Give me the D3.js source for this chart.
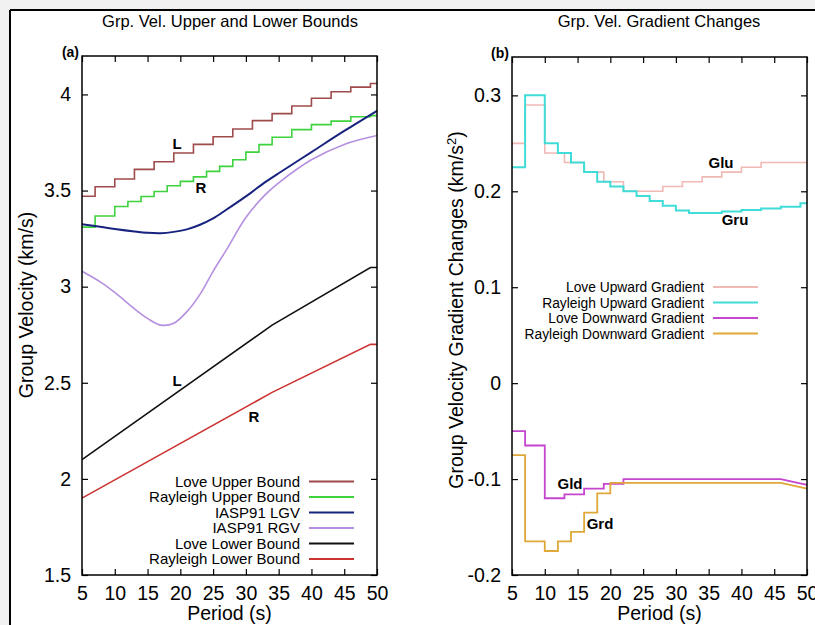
<!DOCTYPE html>
<html>
<head>
<meta charset="utf-8">
<title>Group velocity bounds and gradients</title>
<script src="https://d3js.org/d3.v7.min.js"></script>
<style>
  body { margin: 0; background: #f0f0f0; }
  svg { display: block; font-family: "Liberation Sans", Arial, Helvetica, sans-serif; }
</style>
</head>
<body>
<svg id="fig" width="815" height="625"></svg>
<script>
// ---- panel (a): group velocity bounds (km/s) ----
const loveSteps = [5, 7, 10, 13, 16, 19, 22, 25, 28, 31, 34, 37, 40, 43, 46, 49];
const loveUpper = [3.47, 3.52, 3.56, 3.61, 3.65, 3.695, 3.74, 3.78, 3.82, 3.864, 3.90, 3.94, 3.98, 4.014, 4.038, 4.057];

const raySteps = [5, 7, 10, 12, 14, 16, 18, 20, 22, 24, 26, 28, 30, 32, 34, 37, 40, 43, 46, 49];
const rayUpper = [3.31, 3.368, 3.417, 3.443, 3.469, 3.495, 3.525, 3.548, 3.571, 3.60, 3.626, 3.66, 3.70, 3.739, 3.777, 3.817, 3.843, 3.861, 3.884, 3.89];

const iaspPeriods = [5, 8, 10, 13, 15, 17, 19, 21, 23, 25, 27, 30, 33, 35, 40, 45, 50];
const iaspLGV = [3.325, 3.31, 3.30, 3.287, 3.28, 3.278, 3.285, 3.298, 3.322, 3.355, 3.40, 3.47, 3.545, 3.59, 3.70, 3.81, 3.915];
const iaspRGV = [3.08, 3.02, 2.97, 2.885, 2.835, 2.80, 2.81, 2.87, 2.96, 3.08, 3.19, 3.36, 3.48, 3.54, 3.66, 3.74, 3.786];

const lowerPeriods = [5, 34, 49, 50];
const loveLower = [2.1, 2.8, 3.1, 3.1];
const rayLower = [1.9, 2.45, 2.7, 2.7];

// ---- panel (b): gradient changes (km/s^2) ----
const loveUpGrad = [0.25, 0.29, 0.24, 0.23, 0.22, 0.21, 0.20, 0.20, 0.205, 0.21, 0.215, 0.22, 0.225, 0.23, 0.23, 0.23];
const rayUpGrad = [0.225, 0.30, 0.25, 0.24, 0.23, 0.22, 0.21, 0.205, 0.20, 0.195, 0.19, 0.185, 0.18, 0.1775, 0.1775, 0.179, 0.1805, 0.182, 0.184, 0.1875];

const loveDownSteps = [5, 7, 10, 13, 16, 19, 22, 46];
const loveDownGrad = [-0.05, -0.065, -0.12, -0.116, -0.11, -0.105, -0.10, -0.10];
const loveDownEnd = -0.106;
const rayDownSteps = [5, 7, 10, 12, 14, 16, 18, 20, 46];
const rayDownGrad = [-0.075, -0.165, -0.175, -0.165, -0.155, -0.135, -0.115, -0.104, -0.104];
const rayDownEnd = -0.11;

const periodTicks = [5, 10, 15, 20, 25, 30, 35, 40, 45, 50];
const velTicks = [1.5, 2, 2.5, 3, 3.5, 4];
const gradTicks = [-0.2, -0.1, 0, 0.1, 0.2, 0.3];

// step series -> vertices (holds each value until the next period, then runs to 50)
function stepPts(periods, values, endVal) {
  const pts = [];
  periods.forEach((p, i) => {
    pts.push([p, values[i]]);
    if (i < periods.length - 1) pts.push([periods[i + 1], values[i]]);
  });
  pts.push([50, endVal]);
  return pts;
}
const pairs = (ps, vs) => ps.map((p, i) => [p, vs[i]]);
const plainNum = d => d3.format("~g")(d).replace("\u2212", "-");

const svg = d3.select("#fig");
svg.append("rect").attr("x", 10).attr("y", 10).attr("width", 820).attr("height", 630).attr("fill", "#fff");
svg.append("line").attr("x1", 10).attr("x2", 815).attr("y1", 10).attr("y2", 10).attr("stroke", "#000").attr("stroke-width", 2);
svg.append("line").attr("x1", 10).attr("x2", 10).attr("y1", 10).attr("y2", 625).attr("stroke", "#000").attr("stroke-width", 2);

function panel(o) {
  const x = d3.scaleLinear([5, 50], [o.left, o.left + 295]);
  const y = d3.scaleLinear(o.yDomain, [575, o.top]);
  const g = svg.append("g");

  const axes = [
    [d3.axisBottom(x).tickValues(periodTicks).tickFormat(d3.format("d")), 575],
    [d3.axisTop(x).tickValues(periodTicks).tickFormat(""), o.top]
  ];
  axes.forEach(([ax, ty]) => {
    g.append("g").attr("transform", `translate(0,${ty})`)
      .call(ax.tickSize(-6).tickPadding(11))
      .call(s => s.select(".domain").remove())
      .call(s => s.selectAll("text").attr("font-size", 19.5).attr("fill", "#000").attr("font-family", null));
  });
  g.append("g").attr("transform", `translate(${x.range()[0]},0)`)
    .call(d3.axisLeft(y).tickValues(o.yTicks).tickFormat(plainNum).tickSize(-6).tickPadding(11))
    .call(s => s.select(".domain").remove())
    .call(s => s.selectAll("text").attr("font-size", 19.5).attr("fill", "#000").attr("font-family", null));
  g.append("g").attr("transform", `translate(${x.range()[1]},0)`)
    .call(d3.axisRight(y).tickValues(o.yTicks).tickFormat("").tickSize(-6))
    .call(s => s.select(".domain").remove());
  g.selectAll(".tick line").attr("stroke", "#000").attr("stroke-width", 1.2);

  // series
  const line = d3.line().x(d => x(d[0])).y(d => y(d[1]));
  const smooth = d3.line().x(d => x(d[0])).y(d => y(d[1])).curve(d3.curveCatmullRom.alpha(0.5));
  o.series.forEach(s => {
    g.append("path").datum(s.pts)
      .attr("d", s.smooth ? smooth : line)
      .attr("fill", "none").attr("stroke", s.color).attr("stroke-width", s.w || 1.6)
      .attr("stroke-linejoin", "miter");
  });

  // frame
  g.append("rect").attr("x", x.range()[0]).attr("y", o.top)
    .attr("width", 295).attr("height", 575 - o.top)
    .attr("fill", "none").attr("stroke", "#000").attr("stroke-width", 1.5);

  // titles
  g.append("text").attr("x", o.titleX).attr("y", 27).attr("text-anchor", "middle")
    .attr("font-size", 16.5).text(o.title);
  g.append("text").attr("x", x.range()[0] - 3).attr("y", o.top + 1).attr("text-anchor", "end")
    .attr("font-size", 14).attr("font-weight", "bold").text(o.tag);
  g.append("text").attr("x", (x.range()[0] + x.range()[1]) / 2).attr("y", 620)
    .attr("text-anchor", "middle").attr("font-size", 19.5).text("Period (s)");
  const yt = g.append("text")
    .attr("transform", `translate(${o.yTitleX},${o.yTitleY}) rotate(-90)`)
    .attr("text-anchor", "middle").attr("font-size", 19.5);
  yt.append("tspan").text(o.yTitle);
  if (o.yTitleSup) {
    yt.append("tspan").attr("font-size", 13).attr("baseline-shift", "super").text(o.yTitleSup);
    yt.append("tspan").text(")");
  }

  // curve labels
  o.labels.forEach(l => {
    g.append("text").attr("x", l.x).attr("y", l.y).attr("text-anchor", "middle")
      .attr("font-size", 15).attr("font-weight", "bold").text(l.t);
  });

  // legend
  o.series.filter(s => s.name).forEach((s, i) => {
    const ly = o.legendY + i * o.legendStep;
    g.append("text").attr("x", o.legendX).attr("y", ly + 5).attr("text-anchor", "end")
      .attr("font-size", o.legendFont).text(s.name);
    g.append("line").attr("x1", o.legendX + 9).attr("x2", o.legendX + 54)
      .attr("y1", ly).attr("y2", ly).attr("stroke", s.color).attr("stroke-width", 2);
  });
}

panel({
  left: 82, top: 56, yDomain: [1.5, 4.2], yTicks: velTicks,
  title: "Grp. Vel. Upper and Lower Bounds", titleX: 230, tag: "(a)",
  yTitle: "Group Velocity (km/s)", yTitleX: 33, yTitleY: 305,
  legendX: 300, legendY: 481.5, legendStep: 15.5, legendFont: 15,
  series: [
    { name: "Love Upper Bound", color: "#a04b4b", pts: stepPts(loveSteps, loveUpper, loveUpper[loveUpper.length - 1]) },
    { name: "Rayleigh Upper Bound", color: "#3fd23f", pts: stepPts(raySteps, rayUpper, rayUpper[rayUpper.length - 1]) },
    { name: "IASP91 LGV", color: "#18237f", w: 2, smooth: true, pts: pairs(iaspPeriods, iaspLGV) },
    { name: "IASP91 RGV", color: "#b690e0", smooth: true, pts: pairs(iaspPeriods, iaspRGV) },
    { name: "Love Lower Bound", color: "#111111", pts: pairs(lowerPeriods, loveLower) },
    { name: "Rayleigh Lower Bound", color: "#cc3333", pts: pairs(lowerPeriods, rayLower) }
  ],
  labels: [
    { t: "L", x: 177, y: 149 }, { t: "R", x: 201, y: 193 },
    { t: "L", x: 177, y: 386 }, { t: "R", x: 254, y: 422 }
  ]
});

panel({
  left: 512, top: 57, yDomain: [-0.2, 0.34], yTicks: gradTicks,
  title: "Grp. Vel. Gradient Changes", titleX: 659, tag: "(b)",
  yTitle: "Group Velocity Gradient Changes (km/s", yTitleSup: "2", yTitleX: 463, yTitleY: 310,
  legendX: 704, legendY: 287, legendStep: 15.5, legendFont: 13.8,
  series: [
    { name: "Love Upward Gradient", color: "#f0b9b4", pts: stepPts(loveSteps, loveUpGrad, loveUpGrad[loveUpGrad.length - 1]) },
    { name: "Rayleigh Upward Gradient", color: "#40dcd8", w: 2, pts: stepPts(raySteps, rayUpGrad, rayUpGrad[rayUpGrad.length - 1]) },
    { name: "Love Downward Gradient", color: "#c545cf", w: 1.8, pts: stepPts(loveDownSteps, loveDownGrad, loveDownEnd) },
    { name: "Rayleigh Downward Gradient", color: "#dfa838", w: 1.8, pts: stepPts(rayDownSteps, rayDownGrad, rayDownEnd) }
  ],
  labels: [
    { t: "Glu", x: 721, y: 168 }, { t: "Gru", x: 735, y: 225 },
    { t: "Gld", x: 570, y: 489 }, { t: "Grd", x: 600, y: 529 }
  ]
});
</script>
</body>
</html>
